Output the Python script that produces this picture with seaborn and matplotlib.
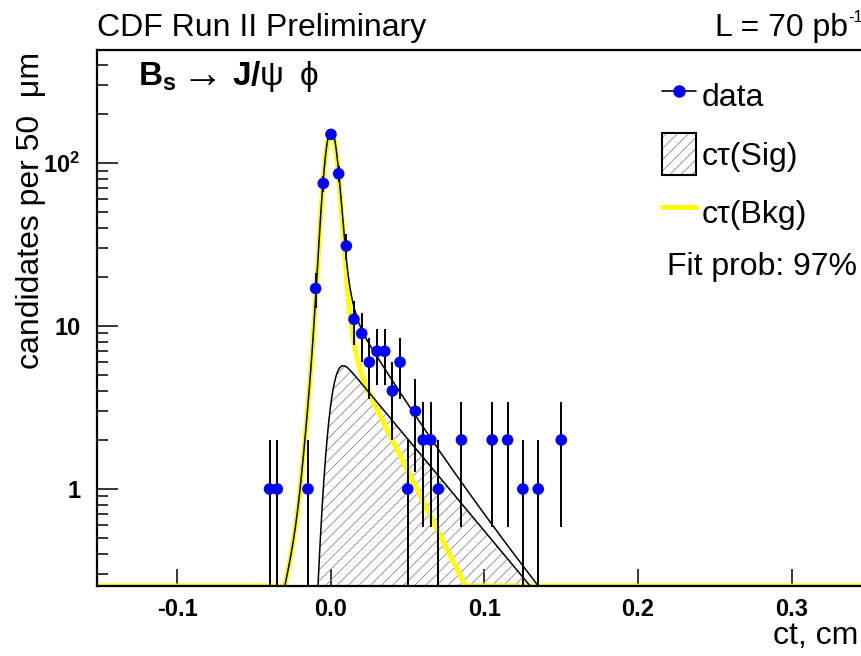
import math

import matplotlib
matplotlib.use("Agg")
import matplotlib.pyplot as plt
import numpy as np
import pandas as pd
import seaborn as sns
from matplotlib.legend_handler import HandlerTuple
from matplotlib.lines import Line2D
from matplotlib.patches import Patch
from matplotlib.ticker import FixedFormatter, FixedLocator, LogLocator, NullFormatter

# ---- measured proper-decay-length distribution (bin width 50 um) ----
ct_centers = [-0.040, -0.035, -0.015, -0.010, -0.005, 0.000, 0.005, 0.010,
              0.015, 0.020, 0.025, 0.030, 0.035, 0.040, 0.045, 0.050,
              0.055, 0.060, 0.065, 0.070, 0.085, 0.105, 0.115, 0.125,
              0.135, 0.150]
counts = [1, 1, 1, 17, 75, 150, 86, 31,
          11, 9, 6, 7, 7, 4, 6, 1,
          3, 2, 2, 1, 2, 2, 2, 1,
          1, 2]

# ---- fitted model parameters (candidates per bin, ct in cm) ----
bkg_core_amp, bkg_core_sigma = 130.0, 0.0040
bkg_wide_amp, bkg_wide_sigma = 20.0, 0.0070
bkg_pos_amp, bkg_pos_tau = 11.1, 0.0231
bkg_neg_amp, bkg_neg_tau = 4.7, 0.0100
sig_amp, sig_tau, sig_sigma = 7.4, 0.0384, 0.0047

x_ticks = [-0.1, 0.0, 0.1, 0.2, 0.3]
x_tick_labels = ["-0.1", "0.0", "0.1", "0.2", "0.3"]
y_ticks = [1, 10, 100]
y_tick_labels = ["1", "10", r"$\mathbf{10^{2}}$"]
x_range = (-0.1524, 0.3459)
y_range = (0.254, 494.0)

sns.set_theme(style="ticks")
plt.rcParams["font.family"] = ["Liberation Sans", "DejaVu Sans"]
plt.rcParams["mathtext.fontset"] = "custom"
plt.rcParams["mathtext.rm"] = "Liberation Sans"
plt.rcParams["mathtext.it"] = "Liberation Sans:italic"
plt.rcParams["mathtext.bf"] = "Liberation Sans:bold"
plt.rcParams["hatch.linewidth"] = 0.6
for key in ("text.color", "axes.labelcolor", "xtick.color", "ytick.color",
            "axes.edgecolor"):
    plt.rcParams[key] = "black"

_erfc = np.vectorize(math.erfc)


def gauss(x, amp, sigma):
    return amp * np.exp(-x ** 2 / (2 * sigma ** 2))


def smeared_decay(x, amp, tau, sigma):
    """Exponential decay exp(-x/tau), x>0, convolved with a Gaussian resolution."""
    arg = (sigma / tau - x / sigma) / math.sqrt(2.0)
    return amp * 0.5 * np.exp(sigma ** 2 / (2 * tau ** 2) - x / tau) * _erfc(arg)


ct_grid = np.linspace(x_range[0], x_range[1], 3000)
bkg_curve = (gauss(ct_grid, bkg_core_amp, bkg_core_sigma)
             + gauss(ct_grid, bkg_wide_amp, bkg_wide_sigma)
             + smeared_decay(ct_grid, bkg_pos_amp, bkg_pos_tau, bkg_core_sigma)
             + smeared_decay(-ct_grid, bkg_neg_amp, bkg_neg_tau, bkg_core_sigma))
sig_curve = smeared_decay(ct_grid, sig_amp, sig_tau, sig_sigma)
tot_curve = bkg_curve + sig_curve

floor = y_range[0]


def cut_at_floor(y):
    """Keep the curve above the frame minimum; end it exactly on the floor."""
    below = y < floor
    inner = below & np.roll(below, 1) & np.roll(below, -1)
    out = np.maximum(y, floor).astype(float)
    out[inner] = np.nan
    return out


fig = plt.figure(figsize=(8.62, 6.56), dpi=100)
ax = fig.add_axes([97 / 862, 70 / 656, (862 - 97) / 862, (586 - 50) / 656])
ax.set_yscale("log")

# signal component: hatched area
sig_mask = sig_curve >= floor
ax.fill_between(ct_grid, floor, np.maximum(sig_curve, floor), where=sig_mask,
                facecolor="none", edgecolor="#8a8a8a", hatch="///", lw=0, zorder=1)
ax.plot(ct_grid, cut_at_floor(sig_curve), color="black", lw=1.1, zorder=2.5)

# background component
bkg_df = pd.DataFrame({"ct": ct_grid, "y": np.maximum(bkg_curve, floor)})
sns.lineplot(data=bkg_df, x="ct", y="y", color="#ffff00", lw=3.6, ax=ax,
             zorder=2, sort=False, estimator=None)

# total fit
ax.plot(ct_grid, cut_at_floor(tot_curve), color="black", lw=1.1, zorder=3)

# data with Poisson errors
cnt = np.array(counts, dtype=float)
err = np.sqrt(cnt)
err_lo = np.minimum(err, cnt - 1e-3)
ax.errorbar(ct_centers, cnt, yerr=[err_lo, err], fmt="none", ecolor="black",
            elinewidth=1.4, capsize=0, zorder=4)
data_df = pd.DataFrame({"ct": ct_centers, "n": counts})
sns.scatterplot(data=data_df, x="ct", y="n", color="#0000ff", s=70,
                edgecolor="none", ax=ax, zorder=5, legend=False)

ax.set_xlim(*x_range)
ax.set_ylim(*y_range)
ax.set_xlabel("")
ax.set_ylabel("")

ax.xaxis.set_major_locator(FixedLocator(x_ticks))
ax.xaxis.set_major_formatter(FixedFormatter(x_tick_labels))
ax.yaxis.set_major_locator(FixedLocator(y_ticks))
ax.yaxis.set_major_formatter(FixedFormatter(y_tick_labels))
ax.yaxis.set_minor_locator(LogLocator(base=10, subs=np.arange(2, 10)))
ax.yaxis.set_minor_formatter(NullFormatter())

ax.tick_params(axis="x", which="major", direction="in", length=12, width=1.1,
               pad=9, labelsize=17, top=False)
ax.tick_params(axis="y", which="major", direction="in", length=15, width=1.1,
               pad=12, labelsize=17, right=False)
ax.tick_params(axis="y", which="minor", direction="in", length=8, width=1.1,
               right=False)
for lab in ax.get_xticklabels() + ax.get_yticklabels():
    lab.set_fontweight("bold")

for side in ("left", "bottom", "top"):
    ax.spines[side].set_visible(True)
    ax.spines[side].set_linewidth(1.6)
    ax.spines[side].set_color("black")
ax.spines["right"].set_visible(False)

# legend
h_data = Line2D([], [], color="black", lw=1.2, marker="o", ms=8,
                mfc="#0000ff", mec="#0000ff")
h_sig = (Patch(facecolor="white", edgecolor="#8a8a8a", hatch="///", lw=0),
         Patch(facecolor="none", edgecolor="black", lw=1.5))
h_bkg = Line2D([], [], color="#ffff00", lw=3.6)
ax.legend([h_data, h_sig, h_bkg], ["data", "cτ(Sig)", "cτ(Bkg)"],
          handler_map={tuple: HandlerTuple(ndivide=1)},
          loc="upper left", bbox_to_anchor=(662 / 862, 1 - 75 / 656),
          bbox_transform=fig.transFigure, frameon=False, borderpad=0,
          borderaxespad=0, handlelength=1.05, handleheight=1.65,
          handletextpad=0.2, labelspacing=0.5, fontsize=23)

fig.text(667 / 862, 1 - 267 / 656, "Fit prob: 97%", ha="left", va="center",
         fontsize=23)

# decay channel label: B_s -> J/psi phi
fig.text(138 / 862, 1 - 77 / 656, r"$\mathbf{B_{s}}$",
         ha="left", va="center", fontsize=24)
fig.text(182 / 862, 1 - 76 / 656, "→", ha="left", va="center", fontsize=30)
fig.text(232 / 862, 1 - 77 / 656,
         r"$\mathbf{J/}\mathrm{\psi}\;\;\mathrm{\phi}$",
         ha="left", va="center", fontsize=24)

fig.text(97 / 862, 1 - 36 / 656, "CDF Run II Preliminary", ha="left",
         va="baseline", fontsize=23)
fig.text(848 / 862, 1 - 36 / 656, "L = 70 pb", ha="right",
         va="baseline", fontsize=23)
fig.text(848 / 862, 1 - 22 / 656, "-1", ha="left", va="baseline", fontsize=12)
fig.text(31 / 862, 1 - 52 / 656, "candidates per 50  μm", rotation=90,
         ha="center", va="top", fontsize=23)
fig.text(858 / 862, 1 - 636 / 656, "ct, cm", ha="right", va="center",
         fontsize=23)

fig.savefig("out.png", dpi=100)
